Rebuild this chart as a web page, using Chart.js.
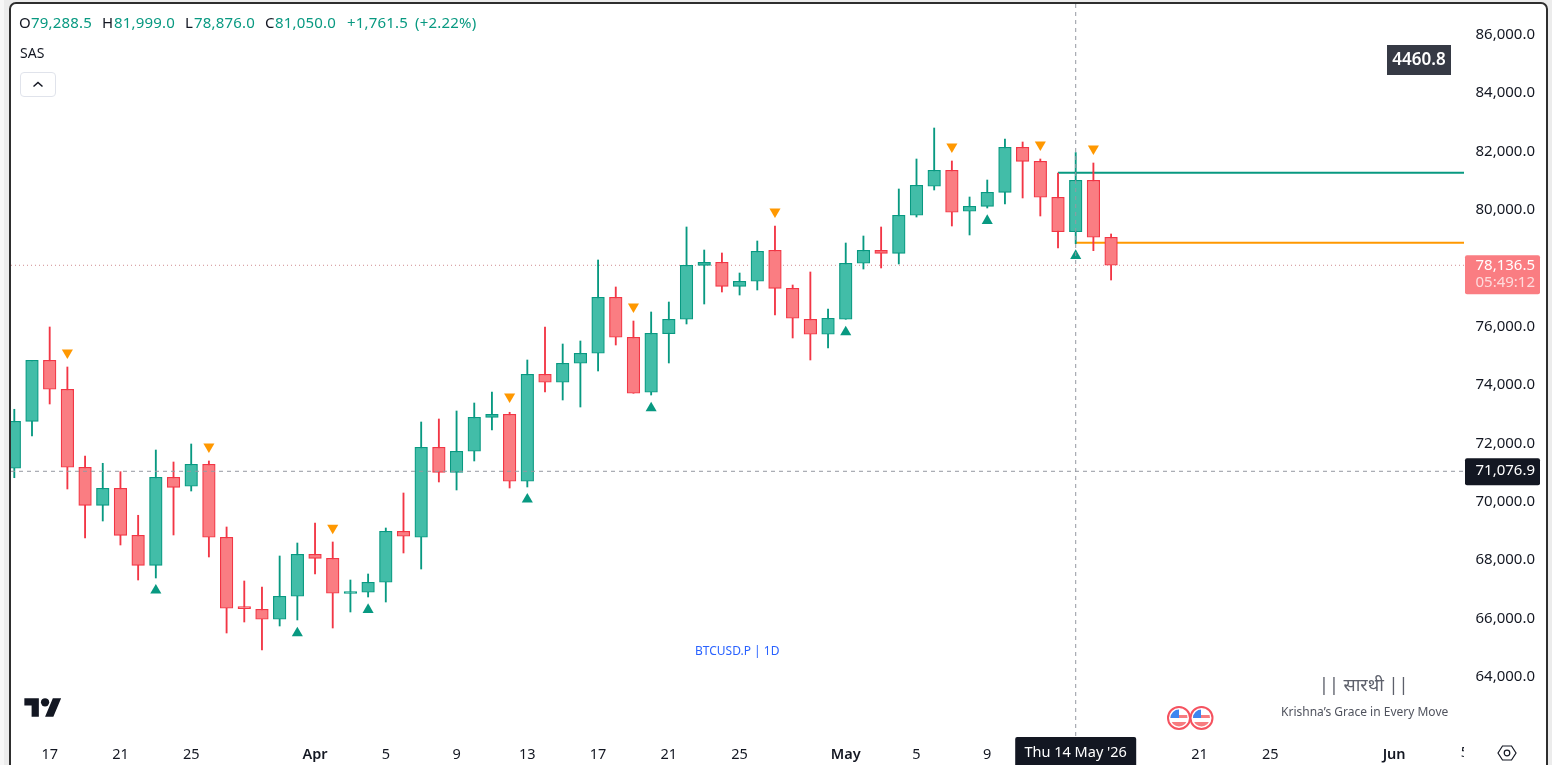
<!DOCTYPE html>
<html>
<head>
<meta charset="utf-8">
<title>BTCUSD.P 1D</title>
<script src="https://cdn.jsdelivr.net/npm/chart.js@4"></script>
<style>
  html,body{margin:0;padding:0;width:1552px;height:765px;overflow:hidden;background:#f7f7f7;font-family:"Noto Sans",sans-serif;}
  #strip{position:absolute;left:4px;top:0;width:1548px;height:765px;background:#ececec;}
  #frame{position:absolute;left:9px;top:2px;width:1535px;height:790px;background:#fff;border:2px solid #2e2e2e;border-radius:7px;}
  canvas{position:absolute;left:0;top:0;}
  .t{position:absolute;white-space:nowrap;line-height:1;}
  .h{font-size:15px;letter-spacing:0.2px;top:15px;}
  .k{color:#131722;} .g{color:#089981;}
  #toggle{position:absolute;left:20px;top:72px;width:34px;height:23px;border:1px solid #e0e3eb;border-radius:4px;background:#fff;}
  svg{position:absolute;overflow:visible;}
</style>
</head>
<body>
<div id="strip"></div>
<div id="frame"></div>
<canvas id="c" width="1552" height="765"></canvas>

<span class="t h k" style="left:19px">O</span><span class="t h g" style="left:31px">79,288.5</span>
<span class="t h k" style="left:102px">H</span><span class="t h g" style="left:114px">81,999.0</span>
<span class="t h k" style="left:185px">L</span><span class="t h g" style="left:194px">78,876.0</span>
<span class="t h k" style="left:265px">C</span><span class="t h g" style="left:275px">81,050.0</span>
<span class="t h g" style="left:347px">+1,761.5</span><span class="t h g" style="left:415px">(+2.22%)</span>
<span class="t k" style="left:20px;top:46px;font-size:14px">SAS</span>
<div id="toggle"><svg style="left:11px;top:8px" width="12" height="7"><path d="M1.5 5.5 L6 1.5 L10.5 5.5" fill="none" stroke="#131722" stroke-width="1.5"/></svg></div>

<span class="t" style="left:695px;top:645px;font-size:12px;color:#2962ff">BTCUSD.P | 1D</span>
<span class="t" style="left:1319px;top:675px;font-size:18px;color:#5d606b;font-family:'Noto Sans','Noto Sans Devanagari','DejaVu Sans',sans-serif">|| सारथी ||</span>
<span class="t" style="left:1281px;top:706px;font-size:12px;color:#50535e">Krishna’s Grace in Every Move</span>

<!-- platform logo -->
<svg style="left:24px;top:694px" width="38" height="29" viewBox="0 0 36 28"><path fill="#131722" d="M14 22H7V11H0V4h14v18zM28 22h-8l7.5-18h8L28 22z"/><circle fill="#131722" cx="20" cy="8" r="4"/></svg>

<!-- event badges -->
<svg style="left:1165px;top:704px" width="52" height="28" viewBox="0 0 52 28">
  <defs>
    <clipPath id="f1"><circle cx="14" cy="14" r="8.5"/></clipPath>
    <clipPath id="f2"><circle cx="36.5" cy="14" r="8.5"/></clipPath>
  </defs>
  <g>
    <circle cx="14" cy="14" r="11" fill="#fff" stroke="#f5525f" stroke-width="2"/>
    <g clip-path="url(#f1)">
      <rect x="4" y="4" width="22" height="20" fill="#fff"/>
      <rect x="4" y="11" width="22" height="3" fill="#f77c80"/><rect x="4" y="18" width="22" height="5" fill="#f77c80"/>
      <rect x="4" y="4" width="10" height="10" fill="#3d85f0"/>
    </g>
    <circle cx="36.5" cy="14" r="11" fill="#fff" stroke="#f5525f" stroke-width="2"/>
    <g clip-path="url(#f2)">
      <rect x="26" y="4" width="22" height="20" fill="#fff"/>
      <rect x="26" y="11" width="22" height="3" fill="#f77c80"/><rect x="26" y="18" width="22" height="5" fill="#f77c80"/>
      <rect x="26" y="4" width="10" height="10" fill="#3d85f0"/>
    </g>
  </g>
</svg>

<!-- scale settings -->
<svg style="left:1497px;top:745px" width="20" height="16" viewBox="0 0 20 16">
  <path d="M1 8 L5.5 1 H14.5 L19 8 L14.5 15 H5.5 Z" fill="none" stroke="#131722" stroke-width="1.2"/>
  <circle cx="10" cy="8" r="2.8" fill="none" stroke="#131722" stroke-width="1.2"/>
</svg>

<script>
// Daily BTCUSD.P candles, one entry per day beginning 15 March.
const opens  = [71180,72790,74881,73887,71214,69911,70494,68883,67855,70871,70563,71316,68815,66392,66347,66005,66793,68232,68095,
  66889,66930,67273,69020,68815,71899,71042,71762,72927,73030,70734,74401,74127,74778,75121,77040,75669,73784,75792,76286,78136,78239,
  77416,77588,78650,77348,76286,75772,76286,78205,78650,78547,79850,80844,81392,79987,80158,80638,82180,81700,80467,79288.5,81050,79096];
const highs  = [73202,74881,76022,74651,71601,71351,71063,69569,71806,71395,72012,71430,69168,67317,67112,68174,68619,69305,68654,
  67351,67557,69133,70333,72766,72869,73143,73417,73794,73099,74891,76022,75439,75542,78318,77393,76227,76536,76878,79449,78660,78558,
  77872,78969,79483,77461,77907,76639,78900,79140,79449,80751,81779,82841,81711,80477,81059,82464,82362,81779,81299,81999,81642,79209];
const lows   = [70857,72287,73383,70470,68791,69373,68551,67351,67420,68894,70401,68140,65535,65912,64952,65775,65981,67557,65706,
  66255,66769,66597,68277,67728,70710,70436,71430,72492,70504,70539,73794,73520,73280,74514,75405,73750,73691,74788,76125,76810,77221,
  77118,77290,76433,75645,74891,75302,76286,78009,78044,78181,79791,80717,79483,79175,80100,80237,80443,79826,78729,78876,78637,77632];
const closes = [72790,74881,73887,71214,69911,70494,68883,67855,70871,70528,71316,68815,66382,66368,66005,66793,68232,68095,66896,
  66930,67273,69020,68849,71899,71042,71762,72927,73030,70734,74401,74127,74778,75121,77040,75669,73750,75806,76286,78136,78239,77416,
  77588,78616,77348,76320,75772,76320,78205,78650,78547,79850,80878,81392,79953,80158,80638,82180,81700,80467,79288.5,81050,79096,78136.5];

// Signal arrows: day index and price level.
const sellDays   = [3,11,18,28,35,43,53,58,61];
const sellLevels = [75144,71923,69137,73637,76721,79976,82204,82273,82135];
const buyDays    = [8,16,20,29,36,47,55,60];
const buyLevels  = [66995,65532,66334,70114,73242,75847,79665,78465];

// Levels projected to the right of the last candles.
const upperLevel = 81310, upperFrom = 59;
const lowerLevel = 78911, lowerFrom = 60;
const lastPrice = 78136.5, crossPrice = 71076.9, crossDay = 60;

// Axis labels.
const priceTicks = [64000,66000,68000,70000,72000,74000,76000,78000,80000,82000,84000,86000];
const dayTicks   = [2,6,10,17,21,25,29,33,37,41,47,51,55,67,71,78];
const dayLabels  = ['17','21','25','Apr','5','9','13','17','21','25','May','5','9','21','25','Jun'];
const monthLabels = ['Apr','May','Jun'];

const ink = '#131722', up = '#089981', upFill = '#42bda8', down = '#f23645', downFill = '#fa7d82';
const xMin = -0.187, xMax = 81.95, yMin = 62005, yMax = 87091;
const uiFont = '"Noto Sans", sans-serif';

const isUp = i => closes[i] >= opens[i];
const wickData = highs.map((h,i) => ({x:i, y:[lows[i],h]}));
const bodyData = opens.map((o,i) => ({x:i, y:[Math.min(o,closes[i]),Math.max(o,closes[i])]}));
const fmt = v => v.toLocaleString('en-US',{minimumFractionDigits:1,maximumFractionDigits:1});

const tagsPlugin = {
  id:'tags',
  afterDraw(chart){
    const c = chart.ctx, ys = chart.scales.y, xs = chart.scales.x;
    const box = (x,y,w,h,fill,r) => { c.fillStyle=fill; c.beginPath(); c.roundRect(x,y,w,h,r); c.fill(); };
    c.save();
    c.textBaseline='middle';

    // partially visible tick at the right edge of the time scale
    c.save();
    c.beginPath(); c.rect(xs.left,736,xs.right-xs.left,29); c.clip();
    c.font='14.5px '+uiFont; c.fillStyle=ink; c.textAlign='center';
    c.fillText('5',xs.getPixelForValue(82),753);
    c.restore();

    // last price tag with countdown
    const lp = ys.getPixelForValue(lastPrice);
    box(1465,lp-10,75,39,downFill,2);
    c.textAlign='right';
    c.font='15px '+uiFont; c.fillStyle='#fff';
    c.fillText(fmt(lastPrice),1535,lp);
    c.fillStyle='rgba(255,255,255,0.72)';
    c.fillText('05:49:12',1535,lp+17.5);

    // crosshair price tag
    const cp = ys.getPixelForValue(crossPrice);
    box(1465,cp-13,75,27,'#131722',2);
    c.fillStyle='#fff';
    c.fillText(fmt(crossPrice),1535,cp-0.5);

    // crosshair date tag
    const dx = xs.getPixelForValue(crossDay);
    box(dx-60.5,737,121,30,'#131722',2);
    c.textAlign='center';
    c.fillStyle='#fff';
    c.font='14.5px '+uiFont;
    c.fillText("Thu 14 May '26",dx,753);

    // indicator value box
    box(1387,45,64,30,'#363a45',0);
    c.font='600 17px '+uiFont; c.fillStyle='#fff';
    c.fillText('4460.8',1419,60);
    c.restore();
  }
};

new Chart(document.getElementById('c'),{
  type:'bar',
  plugins:[tagsPlugin],
  data:{datasets:[
    {type:'line',label:'last',data:[{x:xMin,y:lastPrice},{x:xMax,y:lastPrice}],borderColor:'rgba(200,120,125,0.85)',borderWidth:1,borderDash:[1,3],pointRadius:0,order:9},
    {type:'line',label:'upper',data:[{x:upperFrom,y:upperLevel},{x:xMax,y:upperLevel}],borderColor:up,borderWidth:2,pointRadius:0,order:8},
    {type:'line',label:'lower',data:[{x:lowerFrom,y:lowerLevel},{x:xMax,y:lowerLevel}],borderColor:'#ff9800',borderWidth:2,pointRadius:0,order:8},
    {label:'wicks',data:wickData,grouped:false,barThickness:1.2,
      backgroundColor:c=>isUp(c.dataIndex)?up:down,order:7},
    {label:'bodies',data:bodyData,grouped:false,barThickness:12.6,minBarLength:2,borderSkipped:false,borderWidth:1.2,
      backgroundColor:c=>isUp(c.dataIndex)?upFill:downFill,
      borderColor:c=>isUp(c.dataIndex)?up:down,order:6},
    {type:'scatter',label:'sell',data:sellDays.map((d,i)=>({x:d,y:sellLevels[i]})),pointStyle:'triangle',rotation:180,pointRadius:6.4,pointBackgroundColor:'#ff9800',pointBorderWidth:0,order:5},
    {type:'scatter',label:'buy',data:buyDays.map((d,i)=>({x:d,y:buyLevels[i]})),pointStyle:'triangle',pointRadius:6.4,pointBackgroundColor:up,pointBorderWidth:0,order:5},
    {type:'line',label:'crossH',data:[{x:xMin,y:crossPrice},{x:xMax,y:crossPrice}],borderColor:'#9598a1',borderWidth:1,borderDash:[4,4],pointRadius:0,order:1},
    {type:'line',label:'crossV',data:[{x:crossDay,y:yMin},{x:crossDay,y:yMax}],borderColor:'#9598a1',borderWidth:1,borderDash:[4,4],pointRadius:0,order:1}
  ]},
  options:{
    responsive:false,animation:false,
    layout:{autoPadding:false,padding:{left:11,top:4,right:0,bottom:0}},
    plugins:{legend:{display:false},tooltip:{enabled:false}},
    scales:{
      x:{type:'linear',min:xMin,max:xMax,offset:false,
        grid:{display:false},border:{display:false},
        afterBuildTicks:s=>{s.ticks=dayTicks.map(v=>({value:v}));},
        afterFit:s=>{s.height=29;s.paddingLeft=0;s.paddingRight=0;},
        ticks:{autoSkip:false,maxRotation:0,minRotation:0,padding:2,color:ink,
          callback:(v)=>dayLabels[dayTicks.indexOf(v)],
          font:c=>({family:uiFont,size:14.5,weight:monthLabels.includes(dayLabels[c.index])?'600':'400'})}
      },
      y:{type:'linear',position:'right',min:yMin,max:yMax,
        grid:{display:false},border:{display:false},
        afterBuildTicks:s=>{s.ticks=priceTicks.map(v=>({value:v}));},
        afterFit:s=>{s.width=88;s.paddingTop=0;s.paddingBottom=0;},
        ticks:{crossAlign:'near',padding:3.5,labelOffset:-1,color:ink,autoSkip:false,
          callback:v=>fmt(v),
          font:{family:uiFont,size:15}}
      }
    }
  }
});
</script>
</body>
</html>
